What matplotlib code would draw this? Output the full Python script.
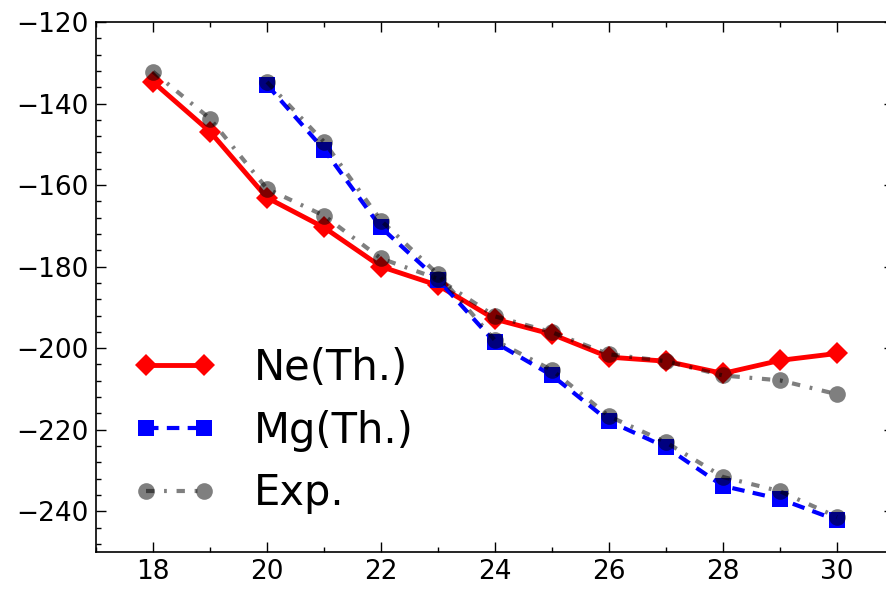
import matplotlib
matplotlib.use("Agg")
import matplotlib.pyplot as plt
from matplotlib.ticker import AutoMinorLocator, MultipleLocator

# mass number
a_ne = [18, 19, 20, 21, 22, 23, 24, 25, 26, 27, 28, 29, 30]
a_mg = [20, 21, 22, 23, 24, 25, 26, 27, 28, 29, 30]

# theory
ne_th = [-134.7, -146.9, -163.1, -170.4, -180.0, -184.6, -192.9, -196.6,
         -202.2, -203.2, -206.2, -203.0, -201.3]
mg_th = [-135.4, -151.3, -170.4, -183.2, -198.6, -206.7, -217.9, -224.3,
         -233.8, -237.0, -242.2]

# experiment
ne_exp = [-132.2, -143.7, -160.9, -167.5, -178.0, -183.0, -192.2, -196.1,
          -201.5, -203.2, -206.7, -207.9, -211.3]
mg_exp = [-134.7, -149.4, -168.7, -181.9, -198.1, -205.4, -216.7, -223.1,
          -231.6, -235.1, -241.4]

plt.rcParams["lines.scale_dashes"] = False

W, H = 887, 589
fig = plt.figure(figsize=(W / 100, H / 100), dpi=100)
ax = fig.add_axes([96 / W, 1 - 552 / H, (894 - 96) / W, (552 - 22) / H])

ax.plot(a_ne, ne_th, color="red", ls="-", marker="D", ms=11, mew=0, lw=3.5,
        label="Ne(Th.)")
ax.plot(a_mg, mg_th, color="blue", ls="--", dashes=(9, 6), marker="s", ms=12, mew=0,
        lw=3, label="Mg(Th.)")
ax.plot(a_ne, ne_exp, color="k", ls="-.", dashes=(6, 7, 2, 7), marker="o", ms=12,
        mew=0, lw=3, alpha=0.5, label="Exp.")
ax.plot(a_mg, mg_exp, color="k", ls="-.", dashes=(6, 7, 2, 7), marker="o", ms=12,
        mew=0, lw=3, alpha=0.5)

ax.set_xlim(17, 31)
ax.set_ylim(-250, -120)
ax.xaxis.set_major_locator(MultipleLocator(2))
ax.xaxis.set_minor_locator(AutoMinorLocator(2))
ax.yaxis.set_major_locator(MultipleLocator(20))
ax.yaxis.set_minor_locator(AutoMinorLocator(5))
ax.tick_params(which="both", direction="in", top=True, right=True, labelsize=19, width=1)
ax.tick_params(which="major", length=7, pad=5)
ax.tick_params(which="minor", length=3.5)
for s in ax.spines.values():
    s.set_linewidth(1.2)

ax.legend(loc="lower left", frameon=False, fontsize=30, numpoints=2,
          handlelength=2.0, handletextpad=0.9, labelspacing=0.5)

fig.savefig("out.png", dpi=100)
